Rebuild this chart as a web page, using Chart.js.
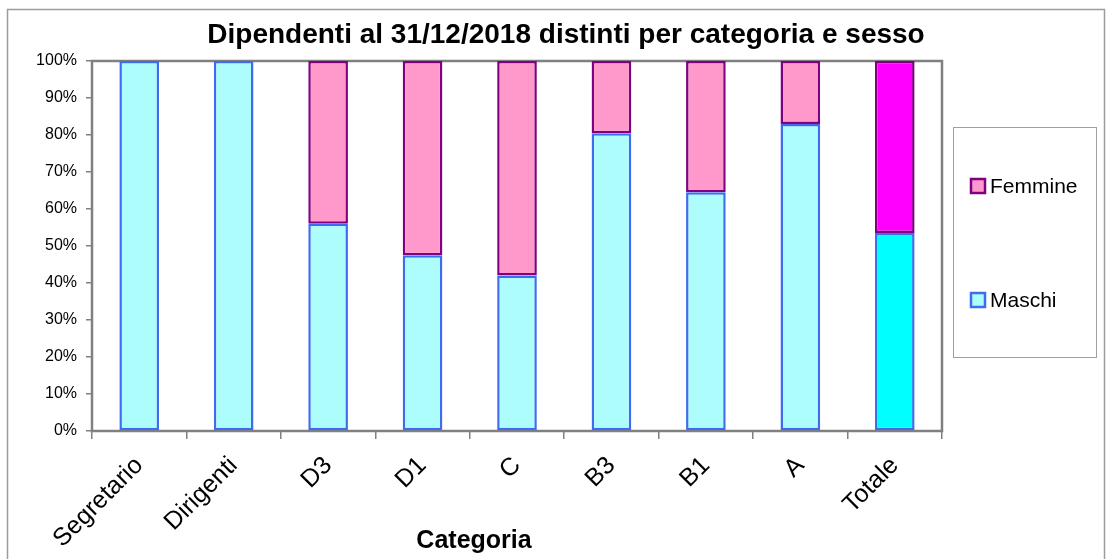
<!DOCTYPE html>
<html>
<head>
<meta charset="utf-8">
<script src="https://cdn.jsdelivr.net/npm/chart.js@4"></script>
<style>
  html, body { margin: 0; padding: 0; background: #ffffff; }
  #wrap { width: 1113px; height: 559px; position: relative; }
</style>
</head>
<body>
<div id="wrap"><canvas id="chart" width="1113" height="559"></canvas></div>
<script>
// Staff at 31/12/2018, share by category and sex (percent)
const categories = ['Segretario', 'Dirigenti', 'D3', 'D1', 'C', 'B3', 'B1', 'A', 'Totale'];
const maschi  = [100, 100, 56, 47.5, 42, 80.5, 64.5, 83, 53.5];
const femmine = [0, 0, 44, 52.5, 58, 19.5, 35.5, 17, 46.5];
const seriesNames = ['Maschi', 'Femmine'];
const yTickValues = [0, 10, 20, 30, 40, 50, 60, 70, 80, 90, 100];

const chartTitle = 'Dipendenti al 31/12/2018 distinti per categoria e sesso';
const xAxisTitle = 'Categoria';

const FONT = '"Liberation Sans", Arial, Helvetica, sans-serif';
const AXIS_GREY = '#808080';

// Colours: the "Totale" column uses the saturated variants
const maschiFill = '#adfdfd', maschiFillTot = '#00ffff', maschiLine = '#3d6cf0';
const femmineFill = '#ff99cc', femmineFillTot = '#ff00ff', femmineLine = '#800080';
const totIndex = categories.indexOf('Totale');

const pick = (normal, total) => (ctx) =>
  (ctx.type === 'data' && ctx.dataIndex === totIndex) ? total : normal;

// White page, outer frame, titles and framed plot area
const decorations = {
  id: 'decorations',
  beforeDraw(chart) {
    const c = chart.ctx;
    c.save();
    c.fillStyle = '#ffffff';
    c.fillRect(0, 0, chart.width, chart.height);
    c.strokeStyle = '#9c9c9c';
    c.lineWidth = 1.5;
    c.strokeRect(7.5, 9.5, 1097, 620);
    c.restore();
  },
  beforeDatasetsDraw(chart) {
    const { ctx: c, chartArea: a } = chart;
    c.save();
    c.strokeStyle = AXIS_GREY;
    c.lineWidth = 2.5;
    c.strokeRect(a.left, a.top, a.right - a.left, a.bottom - a.top);
    c.restore();
  },
  afterDraw(chart) {
    const c = chart.ctx;
    c.save();
    c.fillStyle = '#000000';
    c.textAlign = 'center';
    c.textBaseline = 'alphabetic';
    c.font = 'bold 28px ' + FONT;
    c.fillText(chartTitle, 566, 43);
    c.font = 'bold 25px ' + FONT;
    c.fillText(xAxisTitle, 474, 548);

    // Legend box on the right
    c.strokeStyle = '#a0a0a0';
    c.lineWidth = 1;
    c.strokeRect(953.5, 127.5, 143, 230);
    const items = [
      { label: seriesNames[1], fill: femmineFill, line: femmineLine, y: 186 },
      { label: seriesNames[0], fill: maschiFill, line: maschiLine, y: 300 }
    ];
    c.textAlign = 'left';
    c.textBaseline = 'middle';
    c.font = '21px ' + FONT;
    items.forEach(it => {
      c.fillStyle = it.fill;
      c.fillRect(971, it.y - 7, 14, 14);
      c.strokeStyle = it.line;
      c.lineWidth = 2.5;
      c.strokeRect(971, it.y - 7, 14, 14);
      c.fillStyle = '#000000';
      c.fillText(it.label, 990, it.y + 1);
    });
    c.restore();
  }
};

new Chart(document.getElementById('chart'), {
  type: 'bar',
  data: {
    labels: categories,
    datasets: [
      {
        label: seriesNames[0],
        data: maschi,
        backgroundColor: pick(maschiFill, maschiFillTot),
        borderColor: maschiLine,
        borderWidth: 2.5,
        borderSkipped: false,
        barPercentage: 0.42,
        categoryPercentage: 1
      },
      {
        label: seriesNames[1],
        data: femmine,
        backgroundColor: pick(femmineFill, femmineFillTot),
        borderColor: femmineLine,
        borderWidth: 2.5,
        borderSkipped: false,
        barPercentage: 0.42,
        categoryPercentage: 1
      }
    ]
  },
  options: {
    responsive: false,
    animation: false,
    layout: { padding: { top: 61, right: 171, bottom: 0, left: 0 } },
    plugins: {
      legend: { display: false },
      title: { display: false },
      tooltip: { enabled: false }
    },
    scales: {
      x: {
        stacked: true,
        border: { display: false },
        grid: {
          offset: true,
          drawOnChartArea: false,
          drawTicks: true,
          tickLength: 8,
          color: AXIS_GREY,
          lineWidth: 1.5
        },
        ticks: {
          autoSkip: false,
          minRotation: 45,
          maxRotation: 45,
          padding: 12,
          color: '#000000',
          font: { family: FONT, size: 25 }
        },
        afterFit(scale) { scale.height = 128; }
      },
      y: {
        stacked: true,
        min: 0,
        max: 100,
        border: { display: false },
        afterBuildTicks(scale) { scale.ticks = yTickValues.map(v => ({ value: v })); },
        grid: {
          drawOnChartArea: false,
          drawTicks: true,
          tickLength: 6,
          color: AXIS_GREY,
          lineWidth: 1.5
        },
        ticks: {
          padding: 9,
          color: '#000000',
          font: { family: FONT, size: 16 },
          callback: (v) => v + '%'
        },
        afterFit(scale) { scale.width = 92; }
      }
    }
  },
  plugins: [decorations]
});
</script>
</body>
</html>
